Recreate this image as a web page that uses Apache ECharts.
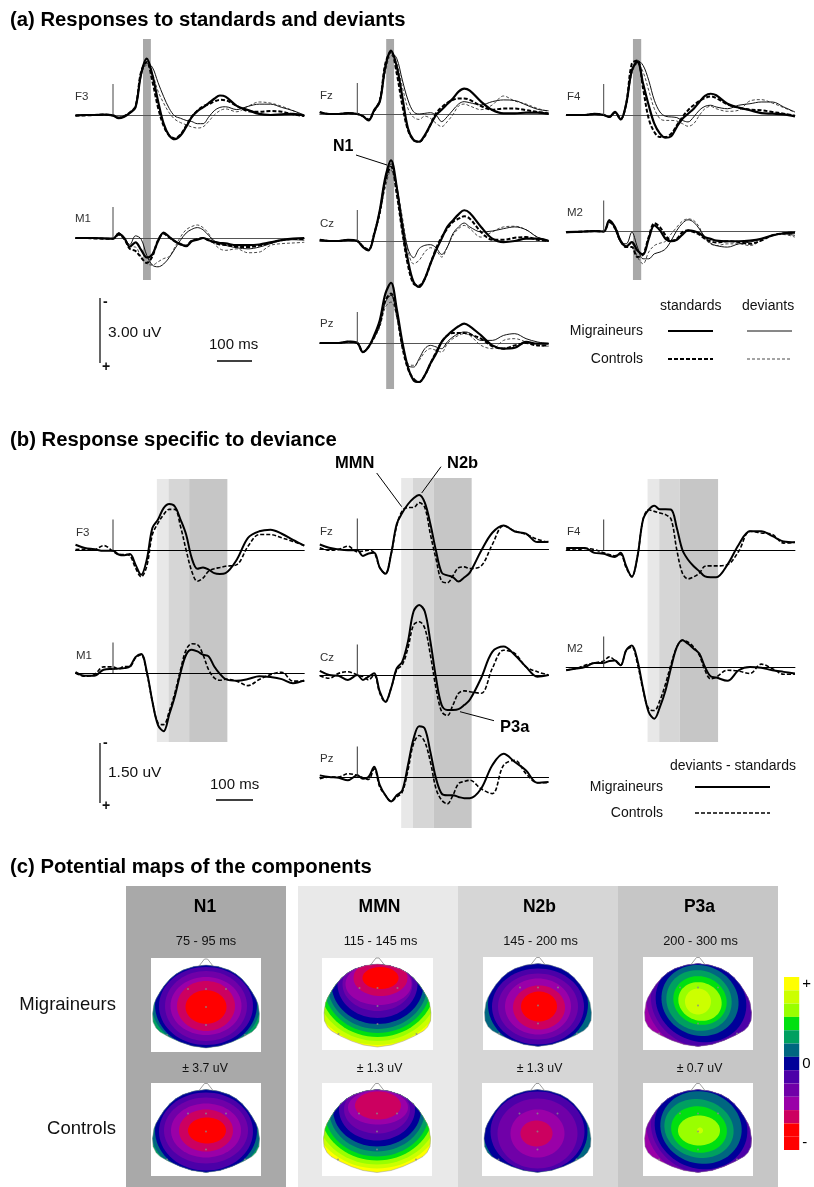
<!DOCTYPE html>
<html><head><meta charset="utf-8">
<style>html,body{margin:0;padding:0;background:#fff}#c{width:814px;height:1187px}</style>
<script src="https://cdn.jsdelivr.net/npm/echarts@6/dist/echarts.min.js"></script>
</head><body><div id="c"></div>
<script>
// time base, ms
const T=[-100,-75,-50,-25,0,15,30,45,60,75,90,105,120,135,150,165,180,195,210,225,240,255,270,285,300,330,360,390,420,450,480,510];
// (a) responses, uV (negative up). MS/CS standards, MD/CD deviants
const aF3_MS=[.02,0,0,-.02,.02,.15,.08,-.1,-.35,-1.9,-2.6,-1.85,-.65,.4,.95,1.12,.95,.55,.1,-.18,-.35,-.55,-.75,-.9,-.85,-.42,-.23,-.05,0,-.03,-.05,.03];
const aF3_CS=[.03,.02,0,-.02,.02,.12,.05,-.12,-.4,-2,-2.45,-1.55,-.35,.5,.95,1.08,.9,.5,.08,-.2,-.4,-.5,-.62,-.7,-.68,-.42,-.18,-.15,-.18,-.15,-.03,.05];
const aF3_MD=[.03,0,0,-.02,.02,.12,.05,-.1,-.35,-1.8,-2.4,-2.2,-1.5,-.85,-.3,.05,.15,.25,.3,.4,.4,.1,-.2,-.35,-.38,-.25,-.4,-.5,-.5,-.35,-.2,0];
const aF3_CD=[.02,0,0,-.02,.02,.1,.05,-.1,-.4,-1.9,-2.3,-1.9,-1.1,-.55,-.1,.2,.35,.45,.55,.6,.55,.3,0,-.2,-.28,-.15,-.4,-.6,-.55,-.4,-.2,.05];
const aM1_MS=[0,0,0,.02,.03,-.2,0,.4,.2,.55,.9,.75,.15,-.25,-.05,.15,.28,.38,.15,.08,0,.1,.18,.23,.25,.33,.33,.3,.2,.1,.03,0];
const aM1_CS=[0,0,.02,.03,.03,-.15,.05,.5,.6,.9,1.15,.85,.1,-.2,-.02,.15,.3,.35,.12,.05,0,.1,.22,.3,.32,.4,.42,.35,.22,.1,.05,.05];
const aM1_MD=[0,0,0,.02,.03,-.25,0,.3,-.1,.05,.8,1.25,1.33,1.2,.9,.5,.1,-.23,-.4,-.48,-.38,-.12,.13,.26,.34,.45,.5,.42,.26,.1,.08,.1];
const aM1_CD=[0,0,0,.02,.03,-.15,.05,.4,.42,.88,1.18,1.25,1.1,.95,.85,.42,-.05,-.38,-.53,-.6,-.48,-.2,.26,.5,.57,.5,.68,.65,.34,.26,.23,.2];
const aFz_MS=[-.08,0,0,-.04,0,.1,.3,-.18,-.57,-2.2,-2.92,-2.2,-.8,.66,1.2,1.28,.97,.5,.05,-.2,-.46,-.72,-1.03,-1.17,-1.08,-.57,-.18,-.03,-.03,-.06,-.06,0];
const aFz_CS=[-.08,0,0,-.04,0,.1,.25,-.15,-.62,-2.34,-2.88,-1.88,-.4,.74,1.2,1.28,1.02,.5,-.03,-.31,-.52,-.65,-.72,-.72,-.65,-.37,-.2,-.25,-.25,-.18,-.09,-.03];
const aFz_MD=[-.08,0,0,-.04,0,.1,.28,-.15,-.65,-2.1,-2.83,-2.57,-1.57,-.65,-.1,0,-.03,-.06,.05,.35,.12,-.18,-.46,-.57,-.52,-.42,-.57,-.65,-.62,-.42,-.22,-.15];
const aFz_CD=[-.08,0,0,-.04,0,.08,.25,-.1,-.55,-1.95,-2.7,-2.34,-1.26,-.26,.15,.25,.1,.2,.43,.58,.35,.03,-.37,-.46,-.37,-.2,-.42,-.83,-.6,-.46,-.26,-.12];
const aCz_MS=[-.05,0,0,-.05,0,.28,.43,-.3,-1.42,-2.95,-3.72,-2.5,-.65,.89,1.89,2.12,1.74,1.05,.43,-.11,-.65,-.95,-1.23,-1.42,-1.29,-.65,-.11,.05,0,-.11,-.11,0];
const aCz_CS=[-.05,0,0,-.05,0,.25,.4,-.34,-1.34,-2.8,-3.43,-2.18,-.42,1.12,1.97,2.05,1.74,1.05,.35,-.18,-.57,-.88,-1.03,-1.14,-1.03,-.42,-.06,-.06,-.15,-.18,-.06,0];
const aCz_MD=[-.05,0,0,-.05,0,.25,.4,-.3,-1.34,-2.72,-3.57,-2.57,-.95,.35,.77,.35,.2,.17,.31,.62,.28,-.34,-.65,-.83,-.65,-.42,-.46,-.57,-.65,-.52,-.18,-.03];
const aCz_CD=[-.05,0,0,-.05,0,.25,.4,-.28,-1.2,-2.49,-3.26,-2.42,-1.11,.43,1.05,.89,.51,.31,.43,.74,.28,-.26,-.57,-.72,-.57,-.18,-.42,-.65,-.68,-.52,-.18,0];
const aPz_MS=[0,0,0,-.06,0,.42,.18,-.35,-1.05,-2.28,-2.78,-1.58,-.05,1.11,1.72,1.8,1.49,.95,.49,-.05,-.35,-.58,-.77,-.89,-.77,-.35,.11,.26,.22,-.05,.03,.03];
const aPz_CS=[0,0,0,-.06,0,.42,.18,-.28,-.89,-1.97,-2.28,-1.35,.18,1.18,1.65,1.8,1.49,.95,.42,-.05,-.35,-.46,-.46,-.46,-.4,-.2,.15,.26,.11,0,.11,.11];
const aPz_MD=[0,0,0,-.06,0,.4,.18,-.25,-.82,-1.89,-2.2,-1.35,.03,1.03,1.11,.72,.26,.11,.18,.26,-.05,-.28,-.43,-.51,-.46,-.12,-.12,-.35,-.43,-.2,-.05,.03];
const aPz_CD=[0,0,0,-.06,0,.4,.18,-.2,-.74,-1.66,-1.89,-1.2,.18,.95,1.03,.8,.42,.26,.34,.42,.03,-.2,-.35,-.43,-.35,.11,.26,-.12,-.2,-.05,.11,.15];
const aF4_MS=[0,0,0,-.05,0,.09,-.14,.2,-.52,-2.06,-2.45,-1.45,-.45,.4,.86,1.05,.98,.55,.17,-.06,-.29,-.6,-.88,-.98,-.91,-.52,-.34,-.22,-.09,-.06,-.03,.06];
const aF4_CS=[0,0,0,-.05,0,.09,-.12,.2,-.52,-2.37,-2.52,-1.22,.17,.78,1.02,1.02,.86,.48,.09,-.22,-.45,-.65,-.78,-.86,-.78,-.49,-.34,-.25,-.22,-.14,-.06,.03];
const aF4_MD=[0,0,0,-.05,0,.09,-.12,.18,-.5,-1.98,-2.52,-2.29,-1.6,-.68,-.14,.06,.09,.12,.25,.32,.09,-.22,-.4,-.45,-.37,-.29,-.45,-.52,-.6,-.6,-.37,-.14];
const aF4_CD=[0,0,0,-.05,0,.09,-.1,.18,-.48,-1.91,-2.37,-1.98,-1.14,-.29,.17,.25,.25,.28,.4,.52,.4,.02,-.29,-.4,-.29,-.17,-.22,-.65,-.71,-.55,-.34,-.12];
const aM2_MS=[.03,.02,0,-.02,0,-.51,-.2,.42,.69,.49,.88,1.06,.34,-.28,-.05,.34,.45,.38,.14,-.05,-.02,.08,.26,.34,.42,.45,.45,.42,.34,.18,.08,.05];
const aM2_CS=[.03,.02,0,-.02,0,-.43,-.2,.45,.72,.72,1.18,1.06,.26,-.38,-.2,.18,.42,.34,.03,-.05,.03,.14,.34,.45,.51,.45,.49,.57,.42,.18,.08,.05];
const aM2_MD=[.03,.02,0,-.03,0,-.54,-.12,.49,.57,.03,.72,1.26,1.26,1.03,.95,.8,.42,-.05,-.38,-.54,-.43,-.12,.26,.54,.65,.72,.57,.49,.34,.18,.11,.18];
const aM2_CD=[.03,.02,0,-.03,0,-.43,-.08,.49,.65,.57,1.18,1.49,.95,.65,.54,.45,.11,-.2,-.48,-.58,-.51,-.2,.34,.57,.65,.57,.57,.65,.42,.18,.14,.26];
// (b) deviants minus standards, uV. M migraineurs, C controls
const bF3_M=[-.13,-.05,-.02,.02,.02,.11,.13,.1,.36,.61,.24,-.54,-.75,-1.03,-1.13,-1.07,-.75,-.38,.2,.46,.43,.48,.57,.59,.57,.24,-.3,-.46,-.5,-.4,-.25,-.11];
const bF3_C=[-.01,-.02,-.01,-.11,.03,.11,.11,.14,.44,.66,.4,-.38,-.66,-.87,-1,-1,-.58,0,.52,.77,.69,.52,.46,.43,.4,.36,-.09,-.38,-.38,-.3,-.21,-.11];
const bM1_M=[-.02,.07,.07,-.08,-.1,-.11,-.12,-.16,-.39,-.47,-.04,.7,1.28,1.43,1.02,.57,0,-.45,-.57,-.53,-.45,-.41,-.16,.02,.15,.19,.15,.08,.1,.15,.25,.18];
const bM1_C=[0,.08,.04,-.15,-.15,-.1,-.16,-.16,-.37,-.45,0,.7,1.23,1.27,.94,.49,-.08,-.57,-.72,-.7,-.45,-.08,.12,.18,.15,.2,.31,.16,.04,-.02,.2,.2];
const bFz_M=[-.11,-.03,.01,.03,.03,.17,.11,.09,.46,.61,.13,-.61,-.89,-1.1,-1.25,-1.33,-1.14,-.61,.05,.58,.65,.69,.8,.7,.58,.05,-.4,-.58,-.43,-.38,-.17,-.18];
const bFz_C=[-.03,.03,.01,-.07,.07,.05,.03,.09,.46,.61,.13,-.57,-.94,-1.02,-1.02,-1.14,-1.02,-.36,.25,.79,.83,.66,.46,.44,.48,.42,-.11,-.57,-.44,-.36,-.24,-.16];
const bCz_M=[-.1,0,.02,.12,0,.12,.04,-.04,.41,.66,.33,-.16,-.33,-.82,-1.56,-1.72,-1.56,-.82,.08,.74,.86,.86,.84,.74,.61,.08,-.57,-.7,-.49,-.2,.04,0];
const bCz_C=[.02,.08,-.04,-.08,0,.04,.12,0,.45,.67,.33,-.12,-.25,-.66,-1.23,-1.31,-1.15,-.49,.33,.9,1,.74,.45,.39,.41,.45,-.16,-.61,-.53,-.2,-.08,0];
const bPz_M=[-.04,0,.02,.08,-.04,.04,0,-.25,.2,.45,.6,.45,.33,-.29,-.94,-1.25,-1.19,-.61,.04,.41,.45,.45,.49,.52,.52,.29,-.29,-.57,-.37,-.16,.14,.12];
const bPz_C=[.04,0,0,-.08,-.04,.02,.06,-.2,.25,.45,.6,.49,.37,-.16,-.82,-1.02,-.86,-.37,.29,.57,.66,.45,.16,.11,.08,.29,.41,-.29,-.41,-.08,.14,.14];
const bF4_M=[-.05,-.05,-.05,.07,.09,.14,.17,.07,.4,.66,.16,-.75,-.99,-1.09,-1,-1,-.99,-.54,0,.24,.4,.52,.65,.67,.67,.36,-.13,-.46,-.46,-.34,-.21,-.19];
const bF4_C=[-.02,0,-.04,-.01,.07,.11,.14,.11,.44,.65,.16,-.75,-.99,-.95,-.91,-.87,-.75,0,.57,.71,.66,.57,.4,.39,.39,.36,.03,-.46,-.42,-.38,-.17,-.19];
const bM2_M=[.08,.04,0,-.1,-.1,-.15,-.16,-.04,-.41,-.53,-.16,.53,1.11,1.27,.98,.57,0,-.49,-.66,-.57,-.45,-.33,0,.23,.26,.34,.08,0,.02,.08,.12,.16];
const bM2_C=[.07,.04,-.04,-.1,-.15,-.25,-.16,-.04,-.41,-.49,-.08,.57,1.03,1.07,.82,.41,-.08,-.49,-.66,-.61,-.49,-.29,.08,.29,.25,.08,.1,.16,-.07,.04,.18,.18];
// analysis windows, ms
const aWindows={F3:[80,101],Fz:[77,98],F4:[78,100]};
const bWindows=[[117,148],[148,203],[203,305]];
// potential-map colour scale, top (+) to bottom (-)
const scaleColors=['#ffff00','#ccff00','#99ff00','#00e010','#00a060','#006680','#000099','#4c00a8','#7000a8','#9a00a8','#cc0060','#ff0000','#ff0000'];
const scaleLabels=['+','','','','','','0','','','','','','-'];
// map contours outer to inner: colour index, centre x, centre y, radius x, radius y, tilt
const mapN1M=[[4,0,0,99,99,0],[5,0,-1,54,42,0],[6,0,0,51,43,0],[7,0,-1,47,39,0],[8,0,-1,41,35,0],[9,0,-1,35.5,29,0],[10,0,-1,29,25,0],[11,0,-2,20.5,16.7,0]];
const mapN1C=[[4,0,0,99,99,0],[5,0,-2,55,43,0],[6,0,-1,51,43,0],[7,0,-2,47,39,0],[8,0,-1,42,33,0],[9,0,-1,35,27,0],[10,0,-1,27,21,0],[11,1,-1,19,13,0]];
const mapMMNM=[[0,0,0,99,99,0],[1,0,20,67,61,0],[2,0,20,62,57,0],[3,0,20,58,53,0],[4,0,20,54,49,0],[5,0,20,50,45,0],[6,0,20,46,40,0],[7,0,20,40,34,0],[8,0,20,35,27,0],[9,1,20,33,21,0],[10,3,26,27,18,0],[11,3,26,18,11,0]];
const mapMMNC=[[0,0,0,99,99,0],[1,0,20,66,59,0],[2,0,20,62,55,0],[3,0,20,57,51,0],[4,0,20,53,47,0],[5,0,20,48,42,0],[6,0,20,44,37,0],[7,0,20,38,31,0],[8,0,20,33,24,0],[9,1,22,30,17,0],[10,1,24,23,14,0]];
const mapN2bM=[[5,0,0,99,99,0],[6,0,-1,50,43,0],[7,0,-3,46,38,0],[8,0,-3,40,33,0],[9,0,-3,33,28,0],[10,1,-4,26,22,0],[11,1,-3,18,15,0]];
const mapN2bC=[[5,0,0,99,99,0],[6,-2,-2,52,44,0],[7,0,-2,47,40,0],[8,0,-4,40,35,0],[9,0,-4,27,24,0],[10,-1,-4,16,13,0]];
const mapP3aM=[[9,0,0,99,99,0],[8,7,0,60,50,-20],[7,5,1,53,45,-20],[6,3,2,46,40,-20],[5,2,3,39,35,-20],[4,1,3,33,30,-20],[3,2,3,27,24,-20],[2,2,2,22,19,-20],[1,0,2,13,13,0]];
const mapP3aC=[[9,0,0,99,99,0],[8,7,0,60,50,-20],[7,5,1,53,45,-20],[6,3,2,47,41,-20],[5,3,2,41,36,-15],[4,1,1,35,29,-15],[3,1,0,28,23,-10],[2,1,-1,21,15,0],[1,2,-1,3,3,0]];
const headOutline=[[0,40],[12,38.5],[23,35],[30,31],[36,26],[42,19],[46,13],[50,6],[52,1],[53.5,-9],[53,-17],[50,-23],[46,-27],[37,-32],[26,-37],[14,-41],[0,-43],[-14,-41],[-26,-37],[-37,-32],[-46,-27],[-50,-23],[-53,-17],[-53.5,-9],[-52,1],[-50,6],[-46,13],[-42,19],[-36,26],[-30,31],[-23,35],[-12,38.5]];
const noseOutline=[[-7,39],[-1.5,46],[1.5,46],[7,39]];
const electrodes=[[-18,16],[0,16],[20,16],[0,-2],[0,-20],[-39,-30],[39,-30]];

// layout
const FONT='"Liberation Sans",Arial,sans-serif';
const COL={F3:75.5,Fz:319.8,F4:566.2};
const grid=[],xAxis=[],yAxis=[],series=[],graphic=[];
function addGrid(l,t,w,h,xmin,xmax,ymin,ymax,inv,opts){
  opts=opts||{};
  grid.push({left:l,top:t,width:w,height:h,containLabel:false,show:!!opts.bg,backgroundColor:opts.bg||'transparent',borderWidth:0});
  const i=grid.length-1;
  xAxis.push({type:'value',gridIndex:i,min:xmin,max:xmax,show:!!opts.baseline,z:2,splitLine:{show:false},axisLabel:{show:false},axisTick:{show:false},
    axisLine:{show:!!opts.baseline,onZero:true,lineStyle:{color:opts.baseline||'#000',width:1}}});
  yAxis.push({type:'value',gridIndex:i,min:ymin,max:ymax,inverse:!!inv,show:false,splitLine:{show:false}});
  return i;
}
function line(i,data,width,dash,color,z){
  series.push({type:'line',xAxisIndex:i,yAxisIndex:i,data:data,symbol:'none',silent:true,smooth:data.length>2?0.35:false,z:z||3,
    lineStyle:{width:width,type:dash?dash:'solid',color:color||'#000',cap:'butt'}});
}
function band(left,top,height,windows,colors){
  const i=addGrid(left,top,228.75,height,-100,510,0,1,false);
  series.push({type:'custom',xAxisIndex:i,yAxisIndex:i,silent:true,z:1,clip:false,data:windows.map((w,k)=>[w[0],w[1],k]),
    encode:{x:[0,1]},
    renderItem:function(p,api){
      const a=api.coord([api.value(0),0]),b=api.coord([api.value(1),1]);
      return {type:'rect',shape:{x:a[0],y:b[1],width:b[0]-a[0],height:a[1]-b[1]},style:{fill:colors[api.value(2)]}};
    }});
}
const SA=21.67,SB=40.67;
function panelA(col,base,mark,arr){
  const i=addGrid(COL[col],base-4*SA,228.75,7*SA,-100,510,-4,3,true,{baseline:'#555'});
  const P=a=>T.map((t,k)=>[t,a[k]]);
  line(i,P(arr[3]),0.9,[3,2],'#333');line(i,P(arr[2]),1,'solid','#111');
  line(i,P(arr[1]),2,[4,2],'#000');line(i,P(arr[0]),2.2,'solid','#000');
  line(i,[[0,0],[0,mark]],1,'solid','#444');
}
function panelB(col,base,mark,arr){
  const i=addGrid(COL[col],base-2.5*SB,228.75,4.5*SB,-100,510,-2.5,2,true,{baseline:'#000'});
  const P=a=>T.map((t,k)=>[t,a[k]]);
  line(i,P(arr[1]),1.6,[4,2],'#000');line(i,P(arr[0]),2,'solid','#000');
  line(i,[[0,0],[0,mark]],1,'solid','#333');
}
band(COL.F3,39,241,[aWindows.F3],['#a8a8a8']);
band(COL.Fz,39,350,[aWindows.Fz],['#a8a8a8']);
band(COL.F4,39,241,[aWindows.F4],['#a8a8a8']);
const bCols=['#e8e8e8','#d6d6d6','#c6c6c6'];
band(COL.F3,479,263,bWindows,bCols);
band(COL.Fz,478,350,bWindows,bCols);
band(COL.F4,479,263,bWindows,bCols);

panelA('F3',115,-1.43,[aF3_MS,aF3_CS,aF3_MD,aF3_CD]);
panelA('F3',238,-1.43,[aM1_MS,aM1_CS,aM1_MD,aM1_CD]);
panelA('Fz',114,-1.43,[aFz_MS,aFz_CS,aFz_MD,aFz_CD]);
panelA('Fz',241,-1.43,[aCz_MS,aCz_CS,aCz_MD,aCz_CD]);
panelA('Fz',343,-1.43,[aPz_MS,aPz_CS,aPz_MD,aPz_CD]);
panelA('F4',115,-1.43,[aF4_MS,aF4_CS,aF4_MD,aF4_CD]);
panelA('F4',231.5,-1.43,[aM2_MS,aM2_CS,aM2_MD,aM2_CD]);
panelB('F3',550,-.75,[bF3_M,bF3_C]);
panelB('F3',673,-.75,[bM1_M,bM1_C]);
panelB('Fz',549,-.75,[bFz_M,bFz_C]);
panelB('Fz',675,-.75,[bCz_M,bCz_C]);
panelB('Fz',777,-.75,[bPz_M,bPz_C]);
panelB('F4',550,-.75,[bF4_M,bF4_C]);
panelB('F4',667,-.75,[bM2_M,bM2_C]);

function map(l,t,w,h,rings){
  const i=addGrid(l,t,w,h,-w/2,w/2,-h/2,h/2,false,{bg:'#fff'});
  series.push({type:'custom',xAxisIndex:i,yAxisIndex:i,silent:true,z:2,clip:false,data:rings,encode:{x:1,y:2},
    renderItem:function(p,api){
      const r=rings[p.dataIndex],th=r[5]*Math.PI/180,pts=[];
      for(let k=0;k<72;k++){const a=k/72*2*Math.PI,ex=r[3]*Math.cos(a),ey=r[4]*Math.sin(a);
        pts.push(api.coord([r[1]+ex*Math.cos(th)-ey*Math.sin(th),r[2]+ex*Math.sin(th)+ey*Math.cos(th)]));}
      return {type:'polygon',shape:{points:pts},style:{fill:scaleColors[r[0]]},
        clipPath:{type:'polygon',shape:{points:headOutline.map(q=>api.coord(q))}}};
    }});
  series.push({type:'custom',xAxisIndex:i,yAxisIndex:i,silent:true,z:3,clip:false,data:[[0,0]],
    renderItem:function(p,api){
      return {type:'group',children:[
        {type:'polygon',shape:{points:headOutline.map(q=>api.coord(q))},style:{fill:'none',stroke:'#999',lineWidth:.5}},
        {type:'polyline',shape:{points:noseOutline.map(q=>api.coord(q))},style:{fill:'none',stroke:'#888',lineWidth:.8}}]};
    }});
  series.push({type:'scatter',xAxisIndex:i,yAxisIndex:i,silent:true,z:4,data:electrodes,symbolSize:2,itemStyle:{color:'#888'}});
}
map(151,958,110,94,mapN1M);map(151,1083,110,93,mapN1C);
map(322,958,111,92,mapMMNM);map(322,1083,110,93,mapMMNC);
map(483,957,110,93,mapN2bM);map(482,1083,111,93,mapN2bC);
map(643,957,110,93,mapP3aM);map(643,1083,110,93,mapP3aC);

// colour scale
grid.push({left:784,top:977,width:16,height:173,containLabel:false});
{const i=grid.length-1;
 xAxis.push({type:'value',gridIndex:i,min:0,max:1,show:false,splitLine:{show:false}});
 yAxis.push({type:'category',gridIndex:i,inverse:true,position:'right',data:scaleLabels.map((s,k)=>k),
   axisLine:{show:false},axisTick:{show:false},splitLine:{show:false},
   axisLabel:{interval:0,margin:3,fontFamily:FONT,fontSize:15,color:'#000',formatter:(v,k)=>scaleLabels[k]}});
 series.push({type:'bar',xAxisIndex:i,yAxisIndex:i,silent:true,barWidth:'100%',z:2,data:scaleColors.map(c=>({value:1,itemStyle:{color:c}}))});
}

// text and annotation
function txt(x,y,s,size,o){o=o||{};graphic.push({type:'text',z:50,silent:true,style:{x:x,y:y,text:s,fontFamily:FONT,fontSize:size,fontWeight:o.bold?'bold':'normal',fill:o.color||'#111',align:o.align||'left',verticalAlign:'middle'}});}
function seg(x1,y1,x2,y2,w,dash,color){graphic.push({type:'line',z:50,silent:true,shape:{x1,y1,x2,y2},style:{stroke:color||'#000',lineWidth:w,lineDash:dash||null}});}
function rect(x,y,w,h,c){graphic.push({type:'rect',z:-1,silent:true,shape:{x,y,width:w,height:h},style:{fill:c}});}
txt(10,20,'(a) Responses to standards and deviants',20.3,{bold:1,color:'#000'});
txt(10,440,'(b) Response specific to deviance',20.3,{bold:1,color:'#000'});
txt(10,867,'(c) Potential maps of the components',20.3,{bold:1,color:'#000'});
[['F3',75,96.5],['M1',75,218.5],['Fz',320,96],['Cz',320,224],['Pz',320,324],['F4',567,96.5],['M2',567,212.5],
 ['F3',76,532.5],['M1',76,656],['Fz',320,531.5],['Cz',320,657.5],['Pz',320,759],['F4',567,532],['M2',567,649]].forEach(a=>txt(a[1],a[2],a[0],11.5,{color:'#333'}));
txt(333,147,'N1',16,{bold:1,color:'#000'});seg(356,155,387,165,1);
txt(335,463,'MMN',16.5,{bold:1,color:'#000'});seg(376.7,473,401.7,506.7,1);
txt(447,463,'N2b',16.5,{bold:1,color:'#000'});seg(441,466.7,421.7,493,1);
txt(500,727,'P3a',16.5,{bold:1,color:'#000'});seg(460,711.7,494,720.7,1);
// scale bars
seg(100,298,100,363,1.5,null,'#333');txt(103,302,'-',14,{bold:1});txt(102,367,'+',14,{bold:1});txt(108,333,'3.00 uV',15.5);
txt(209,345,'100 ms',15);seg(217,361,252,361,1.5);
seg(100,743,100,803,1.5,null,'#333');txt(103,743,'-',14,{bold:1});txt(102,806,'+',14,{bold:1});txt(108,773,'1.50 uV',15.5);
txt(210,785,'100 ms',15);seg(216,800,253,800,1.5);
// legends
txt(660,306,'standards',14);txt(742,306,'deviants',14);
txt(643,331.5,'Migraineurs',14,{align:'right'});txt(643,359,'Controls',14,{align:'right'});
seg(668,331,713,331,2);seg(747,331,792,331,1,null,'#111');seg(668,359,713,359,2,[4,2]);seg(747,359,792,359,.9,[3,2],'#333');
txt(670,766,'deviants - standards',14);
txt(663,787,'Migraineurs',14,{align:'right'});txt(663,813,'Controls',14,{align:'right'});
seg(695,787,770,787,2);seg(695,813,770,813,1.6,[4,2]);
// panel (c)
rect(126,886,160,301,'#a9a9a9');rect(298,886,160,301,'#e9e9e9');rect(458,886,160,301,'#d6d6d6');rect(618,886,160,301,'#c6c6c6');
[['N1',205,'75 - 95 ms','\u00b1 3.7 uV'],['MMN',379.5,'115 - 145 ms','\u00b1 1.3 uV'],['N2b',539.5,'145 - 200 ms','\u00b1 1.3 uV'],['P3a',699.5,'200 - 300 ms','\u00b1 0.7 uV']].forEach(a=>{
  txt(a[1],907,a[0],17.5,{bold:1,align:'center',color:'#000'});
  txt(a[1]+1,941,a[2],12.8,{align:'center'});
  txt(a[1],1069,a[3],12.3,{align:'center'});
});
txt(116,1005,'Migraineurs',18.5,{align:'right'});txt(116,1129,'Controls',18.5,{align:'right'});

const chart=echarts.init(document.getElementById('c'),null,{renderer:'canvas'});
chart.setOption({animation:false,backgroundColor:'#fff',grid,xAxis,yAxis,series,graphic:{elements:graphic}});
</script></body></html>
